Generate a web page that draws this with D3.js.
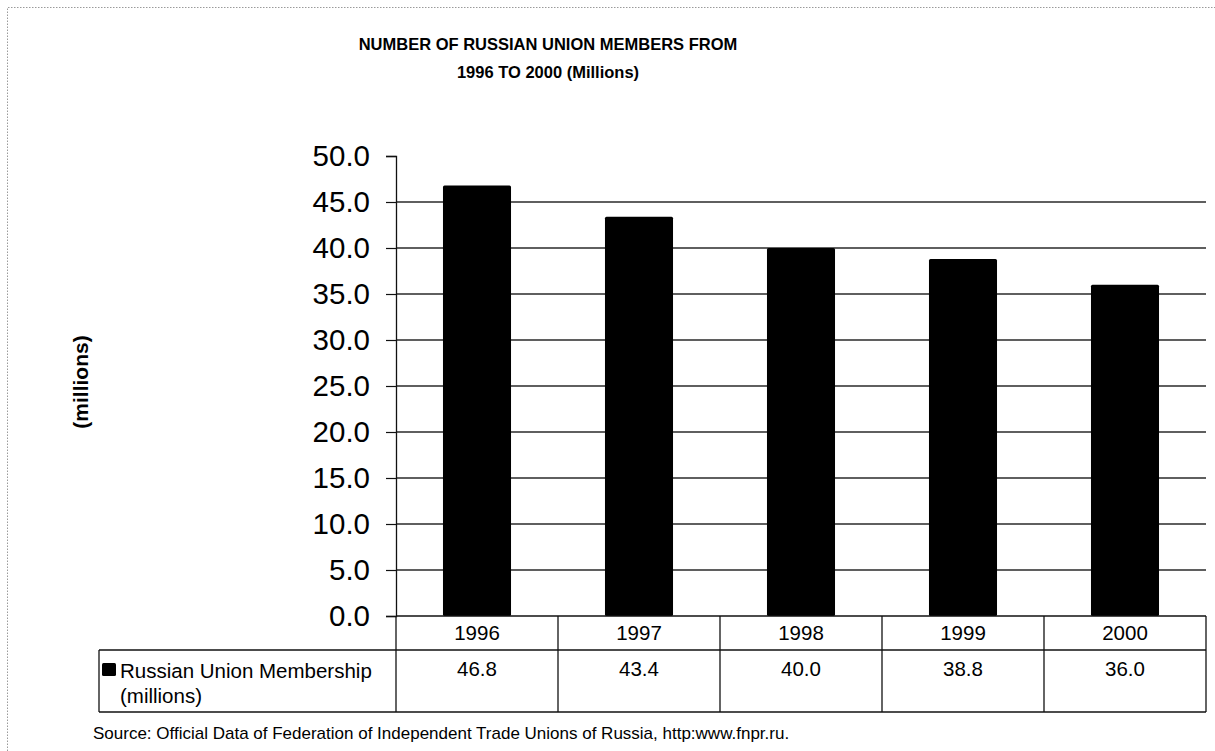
<!DOCTYPE html>
<html>
<head>
<meta charset="utf-8">
<script src="https://cdn.jsdelivr.net/npm/d3@7"></script>
<style>
  html, body { margin: 0; padding: 0; background: #fff; }
  svg { display: block; font-family: "Liberation Sans", Arial, sans-serif; }
</style>
</head>
<body>
<svg id="chart" width="1215" height="751"></svg>
<script>
// Chart data
const years = ["1996", "1997", "1998", "1999", "2000"];
const membership = [46.8, 43.4, 40.0, 38.8, 36.0];
const yTicks = [0, 5, 10, 15, 20, 25, 30, 35, 40, 45, 50];
const titleLines = ["NUMBER OF RUSSIAN UNION MEMBERS FROM", "1996 TO 2000 (Millions)"];
const seriesName = ["Russian Union Membership", "(millions)"];
const yAxisTitle = "(millions)";
const sourceNote = "Source: Official Data of Federation of Independent Trade Unions of Russia, http:www.fnpr.ru.";

const svg = d3.select("#chart");

// Dotted page frame
svg.append("path")
  .attr("d", "M7.5,751 L7.5,7.5 L1215,7.5")
  .attr("fill", "none")
  .attr("stroke", "#9a9a9a")
  .attr("stroke-width", 1)
  .attr("stroke-dasharray", "1.5,1.5");

// Plot geometry
const plotLeft = 396, plotRight = 1206, plotTop = 156, plotBottom = 616;
const x = d3.scaleBand().domain(years).range([plotLeft, plotRight]).paddingInner(0.58).paddingOuter(0.29);
const xCell = d3.scaleBand().domain(years).range([plotLeft, plotRight]).padding(0);
const y = d3.scaleLinear().domain([0, 50]).range([plotBottom, plotTop]);

// Title
svg.append("g").selectAll("text")
  .data(titleLines).join("text")
  .attr("x", 548).attr("y", (d, i) => 50 + i * 28)
  .attr("text-anchor", "middle")
  .attr("font-size", 16.5).attr("font-weight", "bold")
  .text(d => d);

// Horizontal gridlines
svg.append("g").selectAll("line")
  .data(yTicks.filter(t => t > 0 && t < 50)).join("line")
  .attr("x1", plotLeft).attr("x2", plotRight)
  .attr("y1", d => y(d)).attr("y2", d => y(d))
  .attr("stroke", "#2a2a2a").attr("stroke-width", 1.3);

// Bars
svg.append("g").selectAll("rect")
  .data(membership).join("rect")
  .attr("x", (d, i) => x(years[i]))
  .attr("width", x.bandwidth())
  .attr("y", d => y(d))
  .attr("height", d => y(0) - y(d))
  .attr("rx", 1.5)
  .attr("fill", "#000");

// Y axis
const yAxis = d3.axisLeft(y).tickValues(yTicks).tickFormat(d3.format(".1f")).tickSize(10).tickPadding(16);
const ag = svg.append("g").attr("transform", `translate(${plotLeft},0)`).call(yAxis);
ag.select(".domain").attr("stroke", "#111").attr("stroke-width", 1.3);
ag.selectAll(".tick line").attr("stroke", "#111").attr("stroke-width", 1.2);
ag.selectAll(".tick text")
  .attr("font-size", 29.5).attr("fill", "#000")
  .attr("font-family", "'Liberation Sans', Arial, sans-serif");

// Y axis title
svg.append("text")
  .attr("transform", "translate(88,382) rotate(-90)")
  .attr("text-anchor", "middle")
  .attr("font-size", 21).attr("font-weight", "bold")
  .text(yAxisTitle);

// Data table
const rowTop = 616, rowMid = 650, rowBot = 712, tableLeft = 99;
const tg = svg.append("g").attr("stroke", "#111").attr("stroke-width", 1.3);
tg.append("line").attr("x1", plotLeft).attr("x2", plotRight).attr("y1", rowTop).attr("y2", rowTop);
tg.append("line").attr("x1", tableLeft).attr("x2", plotRight).attr("y1", rowMid).attr("y2", rowMid);
tg.append("line").attr("x1", tableLeft).attr("x2", plotRight).attr("y1", rowBot).attr("y2", rowBot);
tg.append("line").attr("x1", tableLeft).attr("x2", tableLeft).attr("y1", rowMid).attr("y2", rowBot);
tg.selectAll("line.col")
  .data(years.map(yr => xCell(yr)).concat([plotRight])).join("line")
  .attr("class", "col")
  .attr("x1", d => d).attr("x2", d => d)
  .attr("y1", rowTop).attr("y2", rowBot);

// Year labels
svg.append("g").selectAll("text")
  .data(years).join("text")
  .attr("x", d => xCell(d) + xCell.bandwidth() / 2)
  .attr("y", 640)
  .attr("text-anchor", "middle").attr("font-size", 20.5)
  .text(d => d);

// Value labels
svg.append("g").selectAll("text")
  .data(membership).join("text")
  .attr("x", (d, i) => xCell(years[i]) + xCell.bandwidth() / 2)
  .attr("y", 676)
  .attr("text-anchor", "middle").attr("font-size", 20.5)
  .text(d => d3.format(".1f")(d));

// Legend key and series name
svg.append("rect")
  .attr("x", 102).attr("y", 663).attr("width", 14).attr("height", 13)
  .attr("rx", 1.5).attr("fill", "#000");
svg.append("g").selectAll("text")
  .data(seriesName).join("text")
  .attr("x", 120).attr("y", (d, i) => 678 + i * 25)
  .attr("font-size", 20.5)
  .text(d => d);

// Source note
svg.append("text")
  .attr("x", 93).attr("y", 739)
  .attr("font-size", 17)
  .text(sourceNote);
</script>
</body>
</html>
